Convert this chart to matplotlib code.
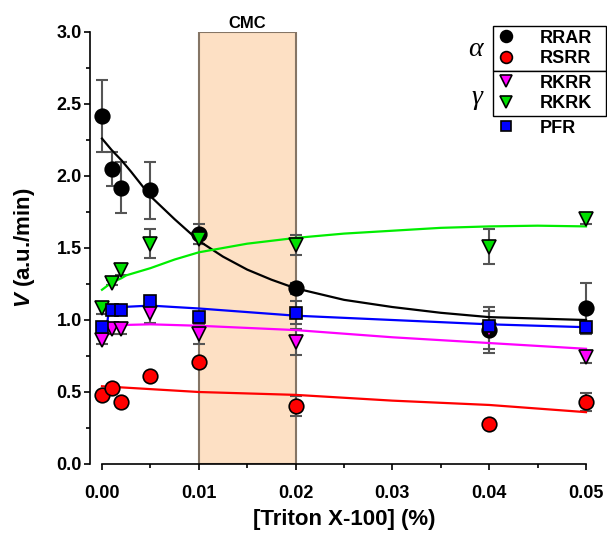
import matplotlib
matplotlib.use("Agg")
import matplotlib.pyplot as plt
from matplotlib.lines import Line2D
from matplotlib.ticker import MultipleLocator, FormatStrFormatter

plt.rcParams['font.family'] = ['Liberation Sans', 'DejaVu Sans']
plt.rcParams['font.weight'] = 'bold'
plt.rcParams['mathtext.fontset'] = 'custom'
plt.rcParams['mathtext.it'] = 'Liberation Sans:italic:bold'
plt.rcParams['mathtext.rm'] = 'Liberation Sans:bold'

# Triton X-100 concentrations (%)
conc = [0.0, 0.001, 0.002, 0.005, 0.01, 0.02, 0.04, 0.05]

# measured velocities (a.u./min) and errors
rrar = [2.42, 2.05, 1.92, 1.90, 1.60, 1.22, 0.93, 1.08]
rrar_err = [0.25, 0.12, 0.18, 0.20, 0.07, 0.04, 0.16, 0.18]
rsrr = [0.48, 0.53, 0.43, 0.61, 0.71, 0.40, 0.28, 0.43]
rsrr_err = [0.02, 0.02, 0.02, 0.02, 0.02, 0.07, 0.02, 0.06]
rkrr = [0.86, 0.94, 0.94, 1.05, 0.90, 0.85, 0.93, 0.74]
rkrr_err = [0.03, 0.04, 0.04, 0.07, 0.07, 0.09, 0.13, 0.04]
rkrk = [1.08, 1.26, 1.35, 1.53, 1.56, 1.52, 1.51, 1.70]
rkrk_err = [0.04, 0.02, 0.04, 0.10, 0.03, 0.07, 0.12, 0.03]
pfr = [0.95, 1.07, 1.07, 1.13, 1.02, 1.05, 0.96, 0.95]
pfr_err = [0.03, 0.03, 0.03, 0.03, 0.03, 0.08, 0.02, 0.03]

# fitted curves
rrar_fit_x = [0.0, 0.001, 0.002, 0.003, 0.005, 0.0075, 0.01, 0.0125, 0.015, 0.0175,
              0.02, 0.025, 0.03, 0.035, 0.04, 0.045, 0.05]
rrar_fit_y = [2.26, 2.18, 2.11, 2.03, 1.86, 1.70, 1.55, 1.44, 1.35, 1.28,
              1.22, 1.14, 1.09, 1.05, 1.02, 1.01, 1.00]
rsrr_fit_x = [0.0, 0.01, 0.02, 0.03, 0.04, 0.05]
rsrr_fit_y = [0.54, 0.50, 0.48, 0.44, 0.41, 0.36]
rkrr_fit_x = [0.0003, 0.0006, 0.001, 0.002, 0.005, 0.01, 0.02, 0.03, 0.04, 0.05]
rkrr_fit_y = [0.90, 0.95, 0.96, 0.965, 0.97, 0.96, 0.93, 0.88, 0.84, 0.80]
rkrk_fit_x = [0.0, 0.001, 0.002, 0.0025, 0.005, 0.0075, 0.01, 0.0125, 0.015, 0.02,
              0.025, 0.03, 0.035, 0.04, 0.045, 0.05]
rkrk_fit_y = [1.21, 1.26, 1.29, 1.31, 1.36, 1.42, 1.47, 1.50, 1.53, 1.57,
              1.60, 1.62, 1.64, 1.65, 1.655, 1.65]
pfr_fit_x = [0.0005, 0.0007, 0.001, 0.002, 0.005, 0.01, 0.02, 0.03, 0.04, 0.05]
pfr_fit_y = [0.96, 1.06, 1.085, 1.09, 1.10, 1.08, 1.03, 1.00, 0.97, 0.95]

W, H = 607, 533
fig = plt.figure(figsize=(W / 100, H / 100), dpi=100)
ax = fig.add_axes([102 / W, 1 - 464 / H, (586 - 102) / W, (464 - 32) / H])

# CMC region
ax.axvspan(0.01, 0.02, facecolor='#fde0c4', edgecolor='#857565', lw=1.5, zorder=0)
ax.text(0.015, 3.01, 'CMC', ha='center', va='bottom', fontsize=12, fontweight='bold')

ecol = '#555555'
series = [
    (rrar, rrar_err, 'o', 'black', 10.5, rrar_fit_x, rrar_fit_y, 'black'),
    (rsrr, rsrr_err, 'o', '#ff0000', 10.5, rsrr_fit_x, rsrr_fit_y, '#ff0000'),
    (rkrr, rkrr_err, 'v', '#ff00ff', 10, rkrr_fit_x, rkrr_fit_y, '#ff00ff'),
    (rkrk, rkrk_err, 'v', '#00e000', 10, rkrk_fit_x, rkrk_fit_y, '#00ee00'),
    (pfr, pfr_err, 's', '#0000ff', 8.5, pfr_fit_x, pfr_fit_y, '#0000ff'),
]
for y, e, m, c, ms, fx, fy, lc in series:
    ax.errorbar(conc, y, yerr=e, fmt='none', ecolor=ecol, elinewidth=1.5,
                capsize=4.5, capthick=1.5, zorder=2, clip_on=False)
    ax.plot(fx, fy, color=lc, lw=1.6, zorder=3, clip_on=False)
for i, (y, e, m, c, ms, fx, fy, lc) in enumerate(series):
    ax.plot(conc, y, m, color=c, ms=ms, mec='black', mew=1.2,
            zorder=4 + i, clip_on=False)

ax.set_xlim(0, 0.05)
ax.set_ylim(0, 3.0)
ax.xaxis.set_major_locator(MultipleLocator(0.01))
ax.xaxis.set_minor_locator(MultipleLocator(0.005))
ax.yaxis.set_major_locator(MultipleLocator(0.5))
ax.yaxis.set_minor_locator(MultipleLocator(0.25))
ax.xaxis.set_major_formatter(FormatStrFormatter('%.2f'))
ax.yaxis.set_major_formatter(FormatStrFormatter('%.1f'))
ax.spines['top'].set_visible(False)
ax.spines['right'].set_visible(False)
ax.spines['left'].set_position(('outward', 9))
for s in ('left', 'bottom'):
    ax.spines[s].set_linewidth(1.2)
ax.tick_params(which='major', length=4, width=1.2, labelsize=13)
ax.tick_params(which='minor', length=3, width=1.2)
ax.tick_params(axis='x', which='major', pad=11)
ax.tick_params(axis='y', which='major', pad=1.5)
for lab in ax.get_xticklabels() + ax.get_yticklabels():
    lab.set_fontweight('bold')

ax.set_xlabel('[Triton X-100] (%)', fontsize=16, fontweight='bold', labelpad=5)
ax.set_ylabel(r'$\mathit{V}$ (a.u./min)', fontsize=16, fontweight='bold', labelpad=14)


def fx_(px):
    return px / W


def fy_(py):
    return 1 - py / H


def marker(m, c, ms):
    return Line2D([], [], marker=m, color=c, mec='black', mew=1.2, ms=ms, ls='none')


leg_kw = dict(loc='upper left', mode='expand', bbox_transform=fig.transFigure,
              prop={'weight': 'bold', 'size': 13}, handlelength=1.0,
              handletextpad=1.4, labelspacing=0.2, borderpad=0.2, borderaxespad=0,
              fancybox=False, framealpha=1, edgecolor='black')

box_w = fx_(606 - 493)
leg1 = ax.legend([marker('o', 'black', 8.5), marker('o', '#ff0000', 8.5)], ['RRAR', 'RSRR'],
                 bbox_to_anchor=(fx_(493), fy_(71), box_w, 45 / H), **leg_kw)
leg1.get_frame().set_linewidth(1.0)
ax.add_artist(leg1)
leg2 = ax.legend([marker('v', '#ff00ff', 8.5), marker('v', '#00e000', 8.5)], ['RKRR', 'RKRK'],
                 bbox_to_anchor=(fx_(493), fy_(116), box_w, 45 / H), **leg_kw)
leg2.get_frame().set_linewidth(1.0)
ax.add_artist(leg2)
kw3 = dict(leg_kw)
kw3['edgecolor'] = 'none'
leg3 = ax.legend([marker('s', '#0000ff', 7.5)], ['PFR'],
                 bbox_to_anchor=(fx_(493), fy_(141), box_w, 25 / H), **kw3)
leg3.get_frame().set_alpha(0)

fig.text(fx_(475), fy_(50), 'α', fontsize=20, ha='center', va='center',
         family='Liberation Serif', style='italic', weight='normal')
fig.text(fx_(477), fy_(98), 'γ', fontsize=20, ha='center', va='center',
         family='Liberation Serif', style='italic', weight='normal')

fig.savefig('out.png', dpi=100)
